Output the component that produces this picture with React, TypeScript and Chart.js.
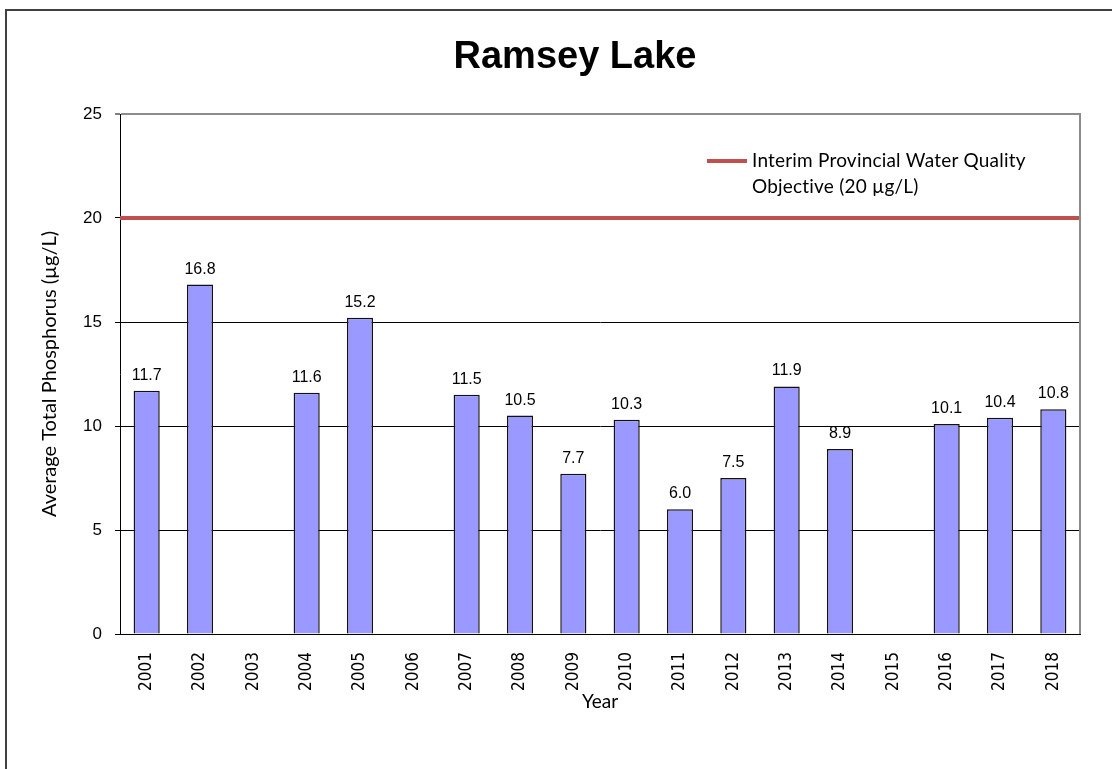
import React, { useEffect, useRef } from 'react';
import { Chart, registerables } from 'chart.js';

Chart.register(...registerables);

// ---- Data ----
const years = ['2001', '2002', '2003', '2004', '2005', '2006', '2007', '2008', '2009', '2010', '2011', '2012', '2013', '2014', '2015', '2016', '2017', '2018'];
const phosphorus: (number | null)[] = [11.7, 16.8, null, 11.6, 15.2, null, 11.5, 10.5, 7.7, 10.3, 6.0, 7.5, 11.9, 8.9, null, 10.1, 10.4, 10.8];
const objectiveValue = 20;
const objectiveLabel = ['Interim Provincial Water Quality', 'Objective (20 µg/L)'];
const yMin = 0;
const yMax = 25;
const yStep = 5;
const titleText = 'Ramsey Lake';
const yTitleText = 'Average Total Phosphorus (µg/L)';
const xTitleText = 'Year';

const SANS = '"Liberation Sans", Arial, sans-serif';
const SOFT = 'Lato, "Liberation Sans", sans-serif';
const VERD = '"DejaVu Sans Condensed", "DejaVu Sans", sans-serif';

const valueLabels = {
  id: 'valueLabels',
  afterDatasetsDraw(chart: any) {
    const meta = chart.getDatasetMeta(0);
    const ctx = chart.ctx;
    ctx.save();
    ctx.font = `16px ${SANS}`;
    ctx.fillStyle = '#000';
    ctx.textAlign = 'center';
    ctx.textBaseline = 'alphabetic';
    meta.data.forEach((el: any, i: number) => {
      const v = phosphorus[i];
      if (v == null) return;
      ctx.fillText(v.toFixed(1), el.x, el.y - 11);
    });
    ctx.restore();
  },
};

const plotFrame = {
  id: 'plotFrame',
  afterDatasetsDraw(chart: any) {
    const { ctx, chartArea: a } = chart;
    ctx.save();
    ctx.strokeStyle = '#8c8c8c';
    ctx.lineWidth = 2;
    ctx.beginPath();
    ctx.moveTo(a.right, a.top - 1);
    ctx.lineTo(a.right, a.bottom);
    ctx.stroke();
    ctx.restore();
  },
};

const innerLegend = {
  id: 'innerLegend',
  afterDraw(chart: any) {
    const { ctx, chartArea: a } = chart;
    const ds = chart.data.datasets[1];
    const lines: string[] = ds.label;
    ctx.save();
    ctx.strokeStyle = ds.borderColor;
    ctx.lineWidth = 4;
    ctx.beginPath();
    ctx.moveTo(a.left + 587, a.top + 47);
    ctx.lineTo(a.left + 627, a.top + 47);
    ctx.stroke();
    ctx.font = `19px ${SOFT}`;
    (ctx as any).letterSpacing = '0.2px';
    ctx.fillStyle = '#000';
    ctx.textAlign = 'left';
    ctx.textBaseline = 'alphabetic';
    lines.forEach((t, i) => ctx.fillText(t, a.left + 632, a.top + 53 + i * 26));
    ctx.restore();
  },
};

export default function App() {
  const ref = useRef<HTMLCanvasElement>(null);

  useEffect(() => {
    if (!ref.current) return;
    const chart = new Chart(ref.current, {
      type: 'bar',
      data: {
        labels: years,
        datasets: [
          {
            type: 'bar',
            label: 'Average Total Phosphorus',
            data: phosphorus,
            backgroundColor: '#9999FF',
            borderColor: '#111111',
            borderWidth: 1.5,
            grouped: false,
            barPercentage: 0.49,
            categoryPercentage: 1,
          } as any,
          {
            type: 'line',
            label: objectiveLabel as any,
            xAxisID: 'xLine',
            data: [
              { x: 0, y: objectiveValue },
              { x: 1, y: objectiveValue },
            ],
            borderColor: '#C0504D',
            borderWidth: 4,
            pointRadius: 0,
            fill: false,
          } as any,
        ],
      },
      options: {
        responsive: false,
        animation: false,
        events: [],
        layout: { padding: { left: 70, right: 32, top: 0, bottom: 0 } },
        plugins: {
          legend: { display: false },
          tooltip: { enabled: false },
          title: {
            display: true,
            text: titleText,
            color: '#000',
            font: { family: SANS, size: 38, weight: 'bold', lineHeight: 1.2 },
            padding: { top: 35, bottom: 33.4 },
          },
        },
        scales: {
          x: {
            type: 'category',
            offset: true,
            grid: { display: true, drawOnChartArea: false, drawTicks: false },
            border: { display: true, color: '#000', width: 1 },
            ticks: {
              color: '#000',
              font: { family: VERD, size: 17 },
              minRotation: 90,
              maxRotation: 90,
              autoSkip: false,
              padding: 18,
            },
            title: {
              display: true,
              text: xTitleText,
              color: '#000',
              font: { family: SOFT, size: 19, lineHeight: 1.2 },
              padding: { top: 0, bottom: 56 },
            },
            afterFit: (scale: any) => {
              scale.height = 135;
            },
          },
          xLine: {
            type: 'linear',
            display: false,
            offset: false,
            grid: { offset: false },
            min: 0,
            max: 1,
          },
          y: {
            min: yMin,
            max: yMax,
            ticks: {
              stepSize: yStep,
              color: '#000',
              font: { family: SANS, size: 17 },
              padding: 13,
            },
            grid: {
              color: (c: any) => (c.tick && c.tick.value === yMax ? '#8c8c8c' : '#000'),
              lineWidth: (c: any) => (c.tick && c.tick.value === yMax ? 2 : 1),
              tickColor: '#000',
              tickLength: 5,
              tickWidth: 1,
            },
            border: { display: true, color: '#000', width: 1 },
            title: {
              display: true,
              text: yTitleText,
              color: '#000',
              font: { family: SOFT, size: 20, lineHeight: 1.2 },
              padding: { top: -32, bottom: 0 },
            },
            afterFit: (scale: any) => {
              scale.width = 50;
            },
          },
        },
      } as any,
      plugins: [valueLabels, plotFrame, innerLegend],
    });
    let alive = true;
    if ((document as any).fonts && (document as any).fonts.ready) {
      (document as any).fonts.ready.then(() => {
        if (alive) chart.update();
      });
    }
    return () => {
      alive = false;
      chart.destroy();
    };
  }, []);

  return (
    <div
      style={{
        position: 'fixed',
        left: 0,
        top: 0,
        width: 1112,
        height: 769,
        overflow: 'hidden',
        background: '#fff',
      }}
    >
      <div
        style={{
          position: 'absolute',
          left: 5,
          top: 9,
          width: 1200,
          height: 900,
          border: '2px solid #404040',
        }}
      />
      <canvas
        ref={ref}
        width={1112}
        height={769}
        style={{ position: 'absolute', left: 0, top: 0, width: 1112, height: 769 }}
      />
    </div>
  );
}
